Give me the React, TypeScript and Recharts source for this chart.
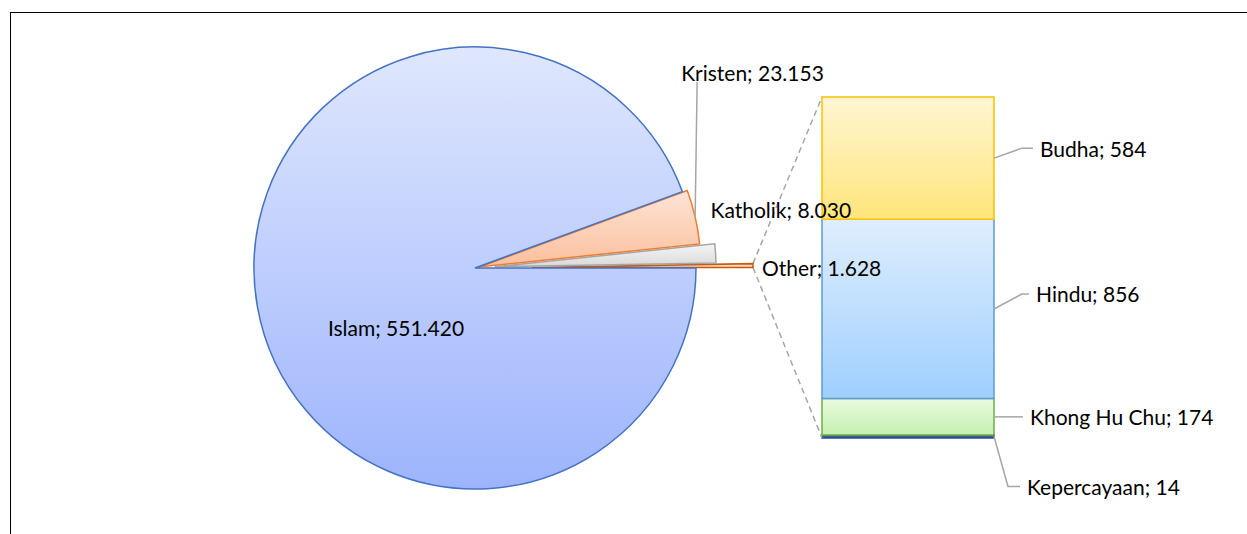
import React from "react";
import { PieChart, Pie, Cell, BarChart, Bar, XAxis, YAxis } from "recharts";

// pie slices, in drawing order (counter-clockwise from 3 o'clock)
const pieNames = ["Other", "Katholik", "Kristen", "Islam"];
const pieValues = [1628, 8030, 23153, 551420];

// breakdown of "Other", bottom to top in the stacked bar
const barNames = ["Kepercayaan", "Khong Hu Chu", "Hindu", "Budha"];
const barValues = [14, 174, 856, 584];

const W = 1247;
const H = 534;
const CX = 475;
const CY = 268;
const R = 221;
const FONT = "Lato, 'Open Sans', sans-serif";

const explode: Record<string, number> = { Other: 57, Katholik: 20, Kristen: 5, Islam: 0 };
const pieStroke: Record<string, string> = {
  Islam: "#4472c4",
  Kristen: "#ed7d31",
  Katholik: "#a5a5a5",
  Other: "#c55a11",
};
const pieGrad: Record<string, [string, string]> = {
  Islam: ["#dfe7fd", "#9db4fd"],
  Kristen: ["#fee4d6", "#fbbf9d"],
  Katholik: ["#f5f5f5", "#d9d9d9"],
  Other: ["#fde9db", "#f8cbad"],
};

const barStroke = ["#2f4f8f", "#70ad47", "#5b9bd5", "#ffc000"];
const barGrad: [string, string][] = [
  ["#4a6aa8", "#2f4f8f"],
  ["#eafbe0", "#c5f0b0"],
  ["#dfeefe", "#9fcfff"],
  ["#fff6d3", "#ffe57a"],
];
// label placement per bar segment: vertical shift, knee x, text x (from right edge)
const barLabelPos = [
  { dy: 50, kx: 14, tx: 33 },
  { dy: 0, kx: 26, tx: 36 },
  { dy: -15, kx: 28, tx: 42 },
  { dy: -10, kx: 28, tx: 46 },
];

const fmt = (v: number) => String(v).replace(/\B(?=(\d{3})+(?!\d))/g, ".");

const pieData = pieNames.map((name, i) => ({ name, value: pieValues[i] }));
const pieTotal = pieValues.reduce((a, b) => a + b, 0);

const barRow: Record<string, number | string> = { name: "Other" };
barNames.forEach((n, i) => (barRow[n] = barValues[i]));
const barData = [barRow];
const barTotal = barValues.reduce((a, b) => a + b, 0);

// angles of each slice, for explosion offsets
const sliceAngles = (() => {
  let a = 0;
  return pieValues.map((v) => {
    const s = a;
    a += (v / pieTotal) * 360;
    return { start: s, end: a, mid: (s + a) / 2 };
  });
})();

const rad = Math.PI / 180;
const offsetOf = (i: number) => {
  const e = explode[pieNames[i]];
  const m = sliceAngles[i].mid * rad;
  return { dx: e * Math.cos(m), dy: -e * Math.sin(m) };
};

// tip of the exploded "Other" slice, where the connector lines start
const otherIdx = pieNames.indexOf("Other");
const otherOff = offsetOf(otherIdx);
const otherTop = {
  x: CX + otherOff.dx + R * Math.cos(sliceAngles[otherIdx].end * rad),
  y: CY + otherOff.dy - R * Math.sin(sliceAngles[otherIdx].end * rad),
};
const otherBottom = {
  x: CX + otherOff.dx + R * Math.cos(sliceAngles[otherIdx].start * rad),
  y: CY + otherOff.dy - R * Math.sin(sliceAngles[otherIdx].start * rad),
};

const textStyle = { fontFamily: FONT, fontSize: 21, fill: "#000" };

const renderPieLabel = (props: any) => {
  const { name, value, midAngle } = props;
  const i = pieNames.indexOf(name);
  const off = offsetOf(i);
  const ox = CX + off.dx + R * Math.cos(midAngle * rad);
  const oy = CY + off.dy - R * Math.sin(midAngle * rad);
  const text = `${name}; ${fmt(value)}`;
  if (name === "Islam") {
    return (
      <text key={name} x={CX - 79} y={CY + 59} textAnchor="middle" dominantBaseline="central" style={textStyle}>
        {text}
      </text>
    );
  }
  if (name === "Kristen") {
    return (
      <g key={name}>
        <line x1={ox + 2} y1={82} x2={ox} y2={oy} stroke="#a6a6a6" strokeWidth={1.5} />
        <text x={ox - 14} y={72} dominantBaseline="central" style={textStyle}>
          {text}
        </text>
      </g>
    );
  }
  if (name === "Katholik") {
    return (
      <text key={name} x={ox - 5} y={oy - 44} dominantBaseline="central" style={textStyle}>
        {text}
      </text>
    );
  }
  return (
    <text key={name} x={ox + 9} y={oy + 2} dominantBaseline="central" style={textStyle}>
      {text}
    </text>
  );
};

const makeBarLabel = (idx: number) => (props: any) => {
  const { x, y, width, height } = props;
  const x0 = x + width;
  const my = y + height / 2;
  const p = barLabelPos[idx];
  const ly = my + p.dy;
  return (
    <g>
      <polyline
        points={`${x0},${my} ${x0 + p.kx},${ly} ${x0 + p.tx - 7},${ly}`}
        fill="none"
        stroke="#a6a6a6"
        strokeWidth={1.5}
      />
      <text x={x0 + p.tx} y={ly} dominantBaseline="central" style={textStyle}>
        {`${barNames[idx]}; ${fmt(barValues[idx])}`}
      </text>
      {idx === barNames.length - 1 && (
        <line x1={otherTop.x} y1={otherTop.y} x2={x} y2={y} stroke="#a6a6a6" strokeWidth={1.5} strokeDasharray="6 4" />
      )}
      {idx === 0 && (
        <line
          x1={otherBottom.x}
          y1={otherBottom.y}
          x2={x}
          y2={y + height}
          stroke="#a6a6a6"
          strokeWidth={1.5}
          strokeDasharray="6 4"
        />
      )}
    </g>
  );
};

export default function App() {
  return (
    <div style={{ position: "fixed", left: 0, top: 0, width: W, height: H, background: "#fff", overflow: "hidden" }}>
      <div
        style={{
          position: "absolute",
          left: 10,
          top: 12,
          width: W,
          height: H,
          borderLeft: "1.5px solid #000",
          borderTop: "1.5px solid #000",
        }}
      />
      <div style={{ position: "absolute", left: 0, top: 0 }}>
        <BarChart
          width={W}
          height={H}
          data={barData}
          margin={{ top: 97, right: 253, bottom: 96, left: 822 }}
          barCategoryGap={0}
          barGap={0}
        >
          <defs>
            {barNames.map((n, i) => (
              <linearGradient key={n} id={`bg-${i}`} x1="0" y1="0" x2="0" y2="1">
                <stop offset="0%" stopColor={barGrad[i][0]} />
                <stop offset="100%" stopColor={barGrad[i][1]} />
              </linearGradient>
            ))}
          </defs>
          <XAxis dataKey="name" hide />
          <YAxis hide domain={[0, barTotal]} />
          {barNames.map((n, i) => (
            <Bar
              key={n}
              dataKey={n}
              stackId="other"
              fill={`url(#bg-${i})`}
              stroke={barStroke[i]}
              strokeWidth={1.5}
              isAnimationActive={false}
              label={makeBarLabel(i)}
            />
          ))}
        </BarChart>
      </div>
      <div style={{ position: "absolute", left: 0, top: 0, pointerEvents: "none" }}>
        <PieChart width={W} height={H} margin={{ top: 0, right: 0, bottom: 0, left: 0 }}>
          <defs>
            {pieNames.map((n) => (
              <linearGradient key={n} id={`pg-${n}`} x1="0" y1="0" x2="0" y2="1">
                <stop offset="0%" stopColor={pieGrad[n][0]} />
                <stop offset="100%" stopColor={pieGrad[n][1]} />
              </linearGradient>
            ))}
          </defs>
          {pieNames.map((n, i) => {
            const off = offsetOf(i);
            return (
              <Pie
                key={n}
                data={pieData}
                dataKey="value"
                nameKey="name"
                cx={CX + off.dx}
                cy={CY + off.dy}
                outerRadius={R}
                startAngle={0}
                endAngle={360}
                isAnimationActive={false}
                labelLine={false}
                label={i === pieNames.length - 1 ? renderPieLabel : false}
              >
                {pieData.map((d) => (
                  <Cell
                    key={d.name}
                    fill={d.name === n ? `url(#pg-${n})` : "none"}
                    stroke={d.name === n ? pieStroke[n] : "none"}
                    strokeWidth={1.5}
                  />
                ))}
              </Pie>
            );
          })}
        </PieChart>
      </div>
    </div>
  );
}
